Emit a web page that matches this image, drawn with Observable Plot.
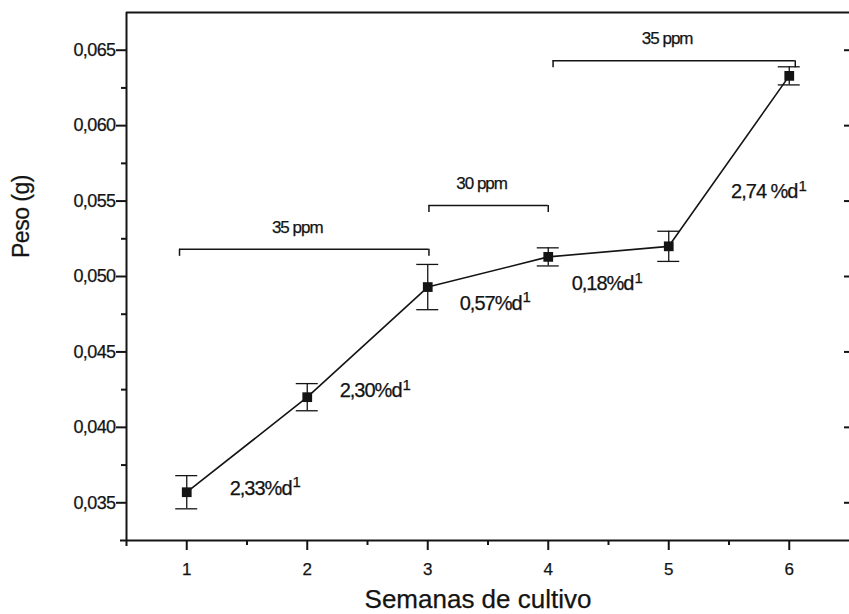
<!DOCTYPE html>
<html>
<head>
<meta charset="utf-8">
<script src="https://cdn.jsdelivr.net/npm/d3@7"></script>
<script src="https://cdn.jsdelivr.net/npm/@observablehq/plot@0.6"></script>
<style>
  html, body { margin: 0; padding: 0; background: #fff; }
  #chart svg { display: block; }
  #chart svg text { stroke: currentColor; stroke-width: 0.25px; }
  #chart g[aria-label="y-axis tick label"] { letter-spacing: -0.6px; }
  #chart g[aria-label="text"][font-size="20"] { letter-spacing: -1px; }
  #chart g[aria-label="text"][font-size="17"] { letter-spacing: -1px; }
  #chart g[aria-label="text"][font-size="23"] { letter-spacing: -0.5px; }
</style>
</head>
<body>
<div id="chart"></div>
<script>
// Mean weight per week of culture (g) and its deviation
const weeks  = [1, 2, 3, 4, 5, 6];
const weight = [0.0357, 0.0420, 0.0493, 0.0513, 0.0520, 0.0633];
const spread = [0.0011, 0.0009, 0.0015, 0.0006, 0.0010, 0.0006];

// Specific growth-rate notes (anchored where the superscript starts)
const rateText  = ["2,33%d", "2,30%d", "0,57%d", "0,18%d", "2,74 %d"];
const rateExp   = "1";
const rateX     = [1.886, 2.799, 3.795, 4.724, 6.085];
const rateY     = [0.03594, 0.04243, 0.04820, 0.04952, 0.05561];

// Concentration periods shown as brackets
const periodLabel = ["35 ppm", "30 ppm", "35 ppm"];
const periodStart = [0.94, 3.01, 4.04];
const periodEnd   = [3.01, 4.00, 6.05];
const periodLevel = [0.0518, 0.0547, 0.0643];

// Axes
const xDomain = [0.5, 6.5];
const yDomain = [0.0325, 0.0675];
const xMajor = [1, 2, 3, 4, 5, 6];
const xMinor = [1.5, 2.5, 3.5, 4.5, 5.5];
const yMajor = [0.035, 0.040, 0.045, 0.050, 0.055, 0.060, 0.065];
const yMinor = [0.0375, 0.0425, 0.0475, 0.0525, 0.0575, 0.0625];
const xTitle = "Semanas de cultivo";
const yTitle = "Peso (g)";

const points = weeks.map((w, i) => ({
  week: w, weight: weight[i], lo: weight[i] - spread[i], hi: weight[i] + spread[i]
}));
const rates = rateText.map((t, i) => ({text: t, x: rateX[i], y: rateY[i]}));
const periods = periodLabel.map((t, i) => ({
  label: t, x1: periodStart[i], x2: periodEnd[i], y: periodLevel[i], mid: (periodStart[i] + periodEnd[i]) / 2
}));

const ink = "#141414";
const comma = d => d.toFixed(3).replace(".", ",");

const chart = Plot.plot({
  width: 849,
  height: 614,
  marginLeft: 126,
  marginRight: 0,
  marginTop: 12,
  marginBottom: 74,
  x: {domain: xDomain},
  y: {domain: yDomain},
  style: {fontFamily: "'Liberation Sans', Arial, sans-serif", color: ink, background: "#fff"},
  marks: [
    // frame lines
    Plot.ruleX([xDomain[0]], {stroke: ink, strokeWidth: 2, insetBottom: -6}),
    Plot.ruleY([yDomain[0]], {stroke: ink, strokeWidth: 2, insetLeft: -6}),
    Plot.ruleY([yDomain[1]], {stroke: ink, strokeWidth: 2}),

    // axes
    Plot.axisY(yMajor, {tickSize: 10, tickPadding: 1, strokeWidth: 2, fontSize: 18, tickFormat: comma, label: null}),
    Plot.axisY(yMinor, {tickSize: 5, strokeWidth: 2, tickFormat: () => "", label: null}),
    Plot.axisY(yMajor, {anchor: "right", tickSize: 6, dx: -6, strokeWidth: 2, tickFormat: () => "", label: null}),
    Plot.axisX(xMajor, {tickSize: 10, tickPadding: 12, strokeWidth: 2, fontSize: 17, tickFormat: d => String(d), label: null}),
    Plot.axisX(xMinor, {tickSize: 5, strokeWidth: 2, tickFormat: () => "", label: null}),

    // axis titles
    Plot.text([yTitle], {frameAnchor: "left", text: d => d, rotate: -90, textAnchor: "middle", lineAnchor: "middle",
      dx: -105, dy: -60, fontSize: 23, fill: ink}),
    Plot.text([xTitle], {frameAnchor: "bottom", text: d => d, textAnchor: "middle", lineAnchor: "middle",
      dx: -10, dy: 59, fontSize: 26, fill: ink}),

    // concentration brackets
    Plot.ruleY(periods, {y: "y", x1: "x1", x2: "x2", stroke: ink, strokeWidth: 1.5}),
    Plot.ruleX(periods, {x: "x1", y1: "y", y2: "y", insetTop: 7, stroke: ink, strokeWidth: 1.5}),
    Plot.ruleX(periods, {x: "x2", y1: "y", y2: "y", insetTop: 7, stroke: ink, strokeWidth: 1.5}),
    Plot.text(periods, {x: "mid", y: "y", text: "label", dx: -7, dy: -22, fontSize: 17, fill: ink}),

    // error bars
    Plot.ruleX(points, {x: "week", y1: "lo", y2: "hi", stroke: ink, strokeWidth: 1.3}),
    Plot.ruleY(points, {y: "lo", x1: "week", x2: "week", insetLeft: -11, insetRight: -11, stroke: ink, strokeWidth: 1.3}),
    Plot.ruleY(points, {y: "hi", x1: "week", x2: "week", insetLeft: -11, insetRight: -11, stroke: ink, strokeWidth: 1.3}),

    // growth curve
    Plot.line(points, {x: "week", y: "weight", stroke: ink, strokeWidth: 1.6}),
    Plot.dot(points, {x: "week", y: "weight", symbol: "square", r: 5.5, fill: ink, stroke: "none"}),

    // growth-rate notes
    Plot.text(rates, {x: "x", y: "y", text: "text", textAnchor: "end", dx: -2, fontSize: 20, fill: ink}),
    Plot.text(rates, {x: "x", y: "y", text: () => rateExp, textAnchor: "start", dx: -1, dy: -6, fontSize: 15, fill: ink})
  ]
});

document.getElementById("chart").append(chart);
</script>
</body>
</html>
